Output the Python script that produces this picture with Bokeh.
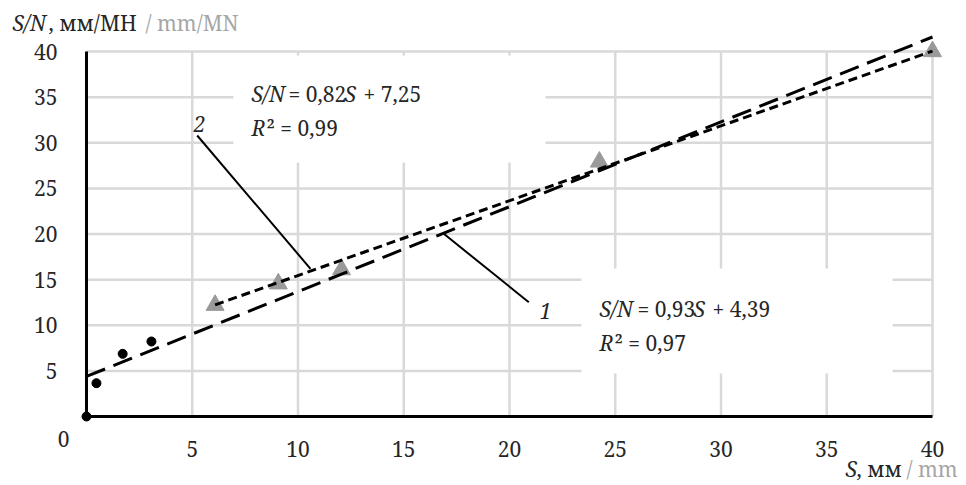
from bokeh.plotting import figure
from bokeh.models import Label, FixedTicker, Range1d
from bokeh.embed import file_html
from bokeh.resources import INLINE

# ---- data ----
s_series1 = [0.0, 0.47, 1.71, 3.07]
sn_series1 = [0.0, 3.65, 6.87, 8.22]
s_series2 = [6.08, 9.07, 12.06, 24.25, 40.0]
sn_series2 = [12.2, 14.55, 16.1, 27.9, 40.0]
trend1_slope, trend1_icpt = 0.93, 4.39
trend2_slope, trend2_icpt = 0.82, 7.25
trend1_s = [0.0, 40.0]
trend2_s = [6.08, 40.0]
tick_values = [5, 10, 15, 20, 25, 30, 35, 40]
axis_min, axis_max = 0, 40

trend1_sn = [trend1_slope * s + trend1_icpt for s in trend1_s]
trend2_sn = [trend2_slope * s + trend2_icpt for s in trend2_s]

# ---- layout geometry (pixels) ----
W, H = 966, 485
AX_L, AX_R, AX_T, AX_B = 86, 932, 51, 416      # pixel positions of 0 and 40 on both axes


def dx(px):
    return (px - AX_L) / (AX_R - AX_L) * (axis_max - axis_min) + axis_min


def dy(py):
    return (AX_B - py) / (AX_B - AX_T) * (axis_max - axis_min) + axis_min


FONT = "Noto Serif"
TICK_SIZE = "21px"
TXT_SIZE = "21px"
DARK = "#262626"
GRAY = "#a6a6a6"
GRID = "#d9d9d9"

p = figure(width=W, height=H,
           x_range=Range1d(dx(0), dx(W)), y_range=Range1d(dy(H), dy(0)),
           output_backend="svg", toolbar_location=None,
           min_border=0, min_border_left=0, min_border_right=0,
           min_border_top=0, min_border_bottom=0)
p.outline_line_color = None
p.background_fill_color = "white"
p.border_fill_color = "white"
p.grid.visible = False

for ax in (p.xaxis[0], p.yaxis[0]):
    ax.ticker = FixedTicker(ticks=tick_values)
    ax.fixed_location = 0
    ax.bounds = (axis_min, axis_max)
    ax.axis_line_color = "black"
    ax.axis_line_width = 3
    ax.major_tick_line_color = None
    ax.minor_tick_line_color = None
    ax.major_label_text_font = FONT
    ax.major_label_text_font_size = TICK_SIZE
    ax.major_label_text_color = DARK
p.xaxis.major_label_standoff = 18
p.yaxis.major_label_standoff = 23

# grid lines at the tick values, limited to the 0..40 square
p.segment(x0=tick_values, y0=[axis_min] * len(tick_values), x1=tick_values,
          y1=[axis_max] * len(tick_values), line_color=GRID, line_width=2.5)
p.segment(x0=[axis_min] * len(tick_values), y0=tick_values, x1=[axis_max] * len(tick_values),
          y1=tick_values, line_color=GRID, line_width=2.5)

# white boxes behind the equations
p.quad(left=dx(233), right=dx(545), top=dy(55), bottom=dy(162),
       fill_color="white", line_color=None)
p.quad(left=dx(581), right=dx(892), top=dy(268), bottom=dy(373),
       fill_color="white", line_color=None)

# markers
p.scatter(s_series1, sn_series1, marker="circle", size=9, fill_color="black", line_color="black")
p.scatter(s_series2, sn_series2, marker="triangle", size=18, fill_color="#9a9a9a", line_color="#9a9a9a")

# trend lines
p.line(trend1_s, trend1_sn, line_color="black", line_width=3, line_dash="20 9")
p.line(trend2_s, trend2_sn, line_color="black", line_width=3, line_dash="9 5")

# leader lines
p.line([dx(196.7), dx(310)], [dy(135), dy(268.3)], line_color="black", line_width=2)
p.line([dx(443.3), dx(528.3)], [dy(233.3), dy(301.7)], line_color="black", line_width=2)


def txt(px, py, t, italic=False, color=DARK, size=TXT_SIZE, align="left"):
    p.add_layout(Label(x=dx(px), y=dy(py), text=t, text_font=FONT,
                       text_font_size=size, text_color=color,
                       text_font_style="italic" if italic else "normal",
                       text_align=align, text_baseline="middle"))


# y-axis title
txt(12, 22, "S/N", italic=True, size=TICK_SIZE)
txt(48, 22, ", мм/МН", size=TICK_SIZE)
txt(145, 22, "/ mm/MN", color=GRAY, size=TICK_SIZE)

# x-axis title
txt(845, 468, "S", italic=True, size=TICK_SIZE)
txt(856, 468, ", мм", size=TICK_SIZE)
txt(906, 468, "/ mm", color=GRAY, size=TICK_SIZE)

# origin label
txt(63, 438, "0", size=TICK_SIZE, align="center")

# equation 2
txt(251, 93, "S/N", italic=True)
txt(288, 93, "= 0,82")
txt(344, 93, "S", italic=True)
txt(363, 93, "+ 7,25")
txt(251, 127, "R", italic=True)
txt(266, 127, "² = 0,99")

# equation 1
txt(599, 308, "S/N", italic=True)
txt(637, 308, "= 0,93")
txt(693, 308, "S", italic=True)
txt(712, 308, "+ 4,39")
txt(599, 342, "R", italic=True)
txt(614, 342, "² = 0,97")

# curve numbers
txt(199, 123, "2", italic=True, align="center")
txt(545, 310, "1", italic=True, align="center")

open("out.html", "w").write(file_html(p, INLINE))
